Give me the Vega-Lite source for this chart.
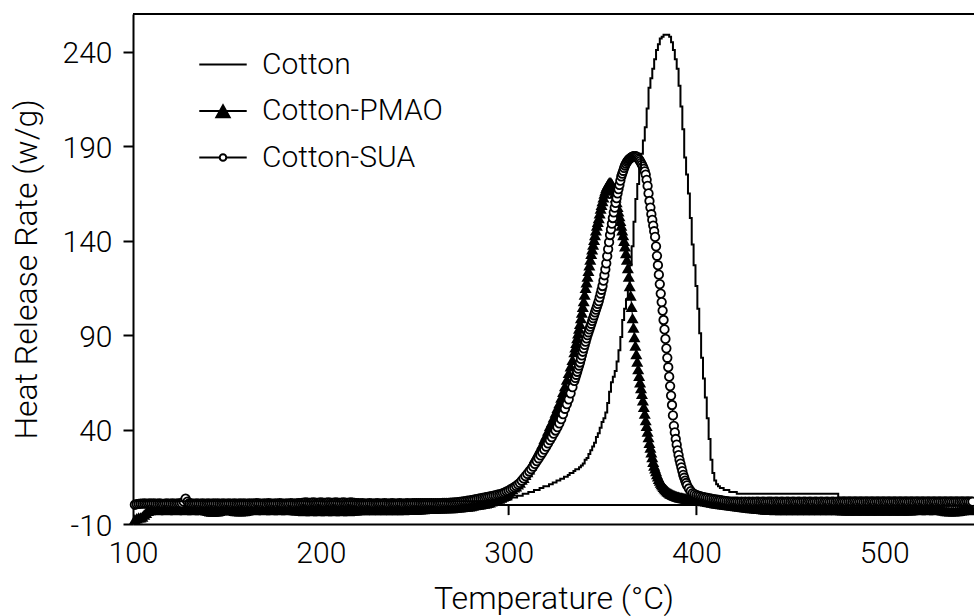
{
  "$schema": "https://vega.github.io/schema/vega-lite/v6.json",
  "width": 841,
  "height": 510,
  "autosize": {"type": "none"},
  "padding": {"left": 133, "top": 14, "right": 0, "bottom": 92},
  "background": "white",
  "config": {
    "view": {"stroke": null},
    "font": "Roboto",
    "axis": {
      "grid": false,
      "labelFont": "Roboto", "labelFontWeight": 300, "labelFontSize": 30, "labelColor": "black",
      "titleFont": "Roboto", "titleFontWeight": 300, "titleFontSize": 32, "titleColor": "black",
      "domainColor": "black", "domainWidth": 2, "tickColor": "black", "tickWidth": 2
    }
  },
  "datasets": {
    "hrr": [
      {"t":101,"c":2,"p":-7.5,"s":0.2},{"t":102,"c":2,"p":-7,"s":0.5},{"t":103,"c":2,"p":-6.5,"s":0.7},{"t":104,"c":2,"p":-6.5,"s":0.8},{"t":105,"c":2,"p":-6,"s":0.8},
      {"t":106,"c":2,"p":-5,"s":0.9},{"t":107,"c":2,"p":-4,"s":0.8},{"t":108,"c":2,"p":-3,"s":0.8},{"t":109,"c":2,"p":-2.6,"s":0.9},{"t":110,"c":2,"p":-2.5,"s":0.8},
      {"t":111,"c":2,"p":-2.4,"s":0.9},{"t":112,"c":2,"p":-2.5,"s":0.8},{"t":113,"c":2,"p":-2.6,"s":0.8},{"t":114,"c":2,"p":-2.5,"s":0.9},{"t":115,"c":2,"p":-2.4,"s":0.8},
      {"t":116,"c":2,"p":-2.5,"s":0.7},{"t":117,"c":2,"p":-2.5,"s":0.8},{"t":118,"c":2,"p":-2.6,"s":0.9},{"t":119,"c":2,"p":-2.5,"s":0.8},{"t":120,"c":2,"p":-2.4,"s":0.8},
      {"t":121,"c":2,"p":-2.5,"s":0.9},{"t":122,"c":2,"p":-2.5,"s":0.8},{"t":123,"c":2,"p":-2.6,"s":0.8},{"t":124,"c":2,"p":-2.5,"s":0.9},{"t":125,"c":2,"p":-2.4,"s":0.9},
      {"t":126,"c":2,"p":-2.5,"s":1.1},{"t":127,"c":2,"p":-2.5,"s":1.8},{"t":128,"c":2,"p":-2.6,"s":3.4},{"t":129,"c":2,"p":-2.5,"s":1.9},{"t":130,"c":2,"p":-2.4,"s":1.0},
      {"t":131,"c":2,"p":-2.5,"s":0.9},{"t":132,"c":2,"p":-2.6,"s":0.8},{"t":133,"c":2,"p":-2.5,"s":0.8},{"t":134,"c":2,"p":-2.4,"s":0.9},{"t":135,"c":2,"p":-2.5,"s":0.8},
      {"t":136,"c":2,"p":-2.6,"s":0.8},{"t":137,"c":2,"p":-2.5,"s":0.9},{"t":138,"c":2,"p":-2.5,"s":0.8},{"t":139,"c":2,"p":-2.7,"s":0.8},{"t":140,"c":2,"p":-3.0,"s":0.9},
      {"t":141,"c":2,"p":-3.3,"s":0.8},{"t":142,"c":2,"p":-3.4,"s":0.8},{"t":143,"c":2,"p":-3.4,"s":0.9},{"t":144,"c":2,"p":-3.3,"s":0.8},{"t":145,"c":2,"p":-3.3,"s":0.9},
      {"t":146,"c":2,"p":-3.0,"s":0.8},{"t":147,"c":2,"p":-2.7,"s":0.8},{"t":148,"c":2,"p":-2.5,"s":0.9},{"t":149,"c":2,"p":-2.5,"s":0.8},{"t":150,"c":2,"p":-2.4,"s":0.8},
      {"t":151,"c":2,"p":-2.5,"s":0.9},{"t":152,"c":2,"p":-2.6,"s":0.8},{"t":153,"c":2,"p":-2.7,"s":0.8},{"t":154,"c":2,"p":-3.0,"s":0.9},{"t":155,"c":2,"p":-3.2,"s":0.8},
      {"t":156,"c":2,"p":-3.2,"s":0.8},{"t":157,"c":2,"p":-3.3,"s":0.9},{"t":158,"c":2,"p":-3.2,"s":0.8},{"t":159,"c":2,"p":-3.2,"s":0.9},{"t":160,"c":2,"p":-3.0,"s":0.8},
      {"t":161,"c":2,"p":-2.7,"s":0.8},{"t":162,"c":2,"p":-2.5,"s":0.9},{"t":163,"c":2,"p":-2.5,"s":0.8},{"t":164,"c":2,"p":-2.4,"s":0.9},{"t":165,"c":2,"p":-2.6,"s":0.8},
      {"t":166,"c":2,"p":-2.5,"s":1.0},{"t":167,"c":2,"p":-2.5,"s":0.9},{"t":168,"c":2,"p":-2.4,"s":0.8},{"t":169,"c":2,"p":-2.5,"s":0.8},{"t":170,"c":2,"p":-2.6,"s":0.9},
      {"t":171,"c":2,"p":-2.5,"s":0.8},{"t":172,"c":2,"p":-2.4,"s":1.0},{"t":173,"c":2,"p":-2.5,"s":0.9},{"t":174,"c":2,"p":-2.6,"s":0.8},{"t":175,"c":2,"p":-2.5,"s":0.8},
      {"t":176,"c":2,"p":-2.4,"s":0.9},{"t":177,"c":2,"p":-2.5,"s":0.8},{"t":178,"c":2,"p":-2.6,"s":1.0},{"t":179,"c":2,"p":-2.5,"s":0.9},{"t":180,"c":2,"p":-2.4,"s":0.8},
      {"t":181,"c":2,"p":-2.5,"s":0.8},{"t":182,"c":2,"p":-2.6,"s":0.9},{"t":183,"c":2,"p":-2.5,"s":0.8},{"t":184,"c":2,"p":-2.4,"s":1.0},{"t":185,"c":2,"p":-2.5,"s":0.9},
      {"t":186,"c":2,"p":-2.6,"s":0.8},{"t":187,"c":2,"p":-2.7,"s":0.9},{"t":188,"c":2,"p":-2.8,"s":1.0},{"t":189,"c":2,"p":-2.9,"s":1.1},{"t":190,"c":2,"p":-3.0,"s":1.2},
      {"t":191,"c":2,"p":-3.1,"s":1.3},{"t":192,"c":2,"p":-3.0,"s":1.4},{"t":193,"c":2,"p":-2.9,"s":1.3},{"t":194,"c":2,"p":-3.0,"s":1.2},{"t":195,"c":2,"p":-3.1,"s":1.3},
      {"t":196,"c":2,"p":-3.0,"s":1.4},{"t":197,"c":2,"p":-2.9,"s":1.3},{"t":198,"c":2,"p":-3.0,"s":1.2},{"t":199,"c":2,"p":-3.1,"s":1.3},{"t":200,"c":2,"p":-3.0,"s":1.4},
      {"t":201,"c":2,"p":-2.9,"s":1.3},{"t":202,"c":2,"p":-3.0,"s":1.2},{"t":203,"c":2,"p":-3.1,"s":1.3},{"t":204,"c":2,"p":-3.0,"s":1.4},{"t":205,"c":2,"p":-2.9,"s":1.3},
      {"t":206,"c":2,"p":-3.0,"s":1.2},{"t":207,"c":2,"p":-3.1,"s":1.3},{"t":208,"c":2,"p":-3.0,"s":1.4},{"t":209,"c":2,"p":-2.9,"s":1.3},{"t":210,"c":2,"p":-3.0,"s":1.2},
      {"t":211,"c":2,"p":-3.1,"s":1.3},{"t":212,"c":2,"p":-3.0,"s":1.4},{"t":213,"c":2,"p":-2.9,"s":1.3},{"t":214,"c":2,"p":-3.0,"s":1.2},{"t":215,"c":2,"p":-3.1,"s":1.3},
      {"t":216,"c":2,"p":-3.0,"s":1.4},{"t":217,"c":2,"p":-2.9,"s":1.3},{"t":218,"c":2,"p":-2.8,"s":1.2},{"t":219,"c":2,"p":-2.7,"s":1.1},{"t":220,"c":2,"p":-2.6,"s":1.0},
      {"t":221,"c":2,"p":-2.5,"s":0.9},{"t":222,"c":2,"p":-2.4,"s":1.0},{"t":223,"c":2,"p":-2.6,"s":0.9},{"t":224,"c":2,"p":-2.5,"s":0.8},{"t":225,"c":2,"p":-2.4,"s":0.9},
      {"t":226,"c":2,"p":-2.6,"s":1.0},{"t":227,"c":2,"p":-2.5,"s":0.9},{"t":228,"c":2,"p":-2.4,"s":0.8},{"t":229,"c":2,"p":-2.6,"s":0.9},{"t":230,"c":2,"p":-2.5,"s":1.0},
      {"t":231,"c":2,"p":-2.4,"s":0.9},{"t":232,"c":2,"p":-2.6,"s":0.8},{"t":233,"c":2,"p":-2.5,"s":0.9},{"t":234,"c":2,"p":-2.4,"s":1.0},{"t":235,"c":2,"p":-2.6,"s":0.9},
      {"t":236,"c":2,"p":-2.5,"s":0.8},{"t":237,"c":2,"p":-2.4,"s":0.9},{"t":238,"c":2,"p":-2.6,"s":1.0},{"t":239,"c":2,"p":-2.5,"s":0.9},{"t":240,"c":2,"p":-2.4,"s":0.8},
      {"t":241,"c":2,"p":-2.6,"s":0.9},{"t":242,"c":2,"p":-2.5,"s":1.0},{"t":243,"c":2,"p":-2.4,"s":0.9},{"t":244,"c":2,"p":-2.6,"s":0.8},{"t":245,"c":2,"p":-2.5,"s":0.9},
      {"t":246,"c":2,"p":-2.4,"s":1.0},{"t":247,"c":2,"p":-2.5,"s":0.9},{"t":248,"c":2,"p":-2.4,"s":0.9},{"t":249,"c":2,"p":-2.4,"s":1.0},{"t":250,"c":2,"p":-2.3,"s":1.0},
      {"t":251,"c":2,"p":-2.3,"s":1.0},{"t":252,"c":2,"p":-2.2,"s":1.0},{"t":253,"c":2,"p":-2.2,"s":1.0},{"t":254,"c":2,"p":-2.1,"s":1.0},{"t":255,"c":2,"p":-2.1,"s":1.05},
      {"t":256,"c":2,"p":-2.0,"s":1.05},{"t":257,"c":2,"p":-2.0,"s":1.05},{"t":258,"c":2,"p":-1.9,"s":1.05},{"t":259,"c":2,"p":-1.9,"s":1.05},{"t":260,"c":2,"p":-1.8,"s":1.1},
      {"t":261,"c":2,"p":-1.8,"s":1.1},{"t":262,"c":2,"p":-1.7,"s":1.1},{"t":263,"c":2,"p":-1.7,"s":1.1},{"t":264,"c":2,"p":-1.7,"s":1.1},{"t":265,"c":2,"p":-1.6,"s":1.15},
      {"t":266,"c":2,"p":-1.6,"s":1.15},{"t":267,"c":2,"p":-1.6,"s":1.2},{"t":268,"c":2,"p":-1.55,"s":1.2},{"t":269,"c":2,"p":-1.5,"s":1.25},{"t":270,"c":2,"p":-1.5,"s":1.3},
      {"t":271,"c":2,"p":-1.4,"s":1.4},{"t":272,"c":2,"p":-1.3,"s":1.5},{"t":273,"c":2,"p":-1.2,"s":1.6},{"t":274,"c":2,"p":-1.1,"s":1.7},{"t":275,"c":2,"p":-1.0,"s":1.8},
      {"t":276,"c":2,"p":-0.9,"s":2.0},{"t":277,"c":2,"p":-0.8,"s":2.1},{"t":278,"c":2,"p":-0.7,"s":2.3},{"t":279,"c":2,"p":-0.6,"s":2.4},{"t":280,"c":2,"p":-0.5,"s":2.6},
      {"t":281,"c":2,"p":-0.2,"s":2.8},{"t":282,"c":2,"p":0,"s":3.0},{"t":283,"c":2,"p":0.2,"s":3.2},{"t":284,"c":2,"p":0.3,"s":3.4},{"t":285,"c":2,"p":0.5,"s":3.6},
      {"t":286,"c":2,"p":0.7,"s":3.8},{"t":287,"c":2,"p":0.9,"s":4.0},{"t":288,"c":2,"p":1.0,"s":4.2},{"t":289,"c":2,"p":1.2,"s":4.4},{"t":290,"c":2,"p":1.5,"s":4.6},
      {"t":291,"c":2,"p":2.0,"s":4.8},{"t":292,"c":2,"p":2.3,"s":5.0},{"t":293,"c":2,"p":2.7,"s":5.2},{"t":294,"c":2,"p":3.0,"s":5.5},{"t":295,"c":2,"p":3.5,"s":5.7},
      {"t":296,"c":2,"p":4.0,"s":6.0},{"t":297,"c":2,"p":4.5,"s":6.3},{"t":298,"c":2,"p":5.0,"s":6.7},{"t":299,"c":3,"p":6.0,"s":7.2},{"t":300,"c":3,"p":6.5,"s":7.7},
      {"t":301,"c":3,"p":7.5,"s":8.3},{"t":302,"c":4,"p":8.5,"s":8.9},{"t":303,"c":4,"p":9.5,"s":9.5},{"t":304,"c":4,"p":10.0,"s":10.2},{"t":305,"c":5,"p":11.0,"s":11.0},
      {"t":306,"c":5,"p":12.0,"s":11.8},{"t":307,"c":5,"p":13.5,"s":12.9},{"t":308,"c":6,"p":14.5,"s":14.1},{"t":309,"c":6,"p":16.0,"s":15.3},{"t":310,"c":6,"p":17.5,"s":16.5},
      {"t":311,"c":7,"p":19.0,"s":17.8},{"t":312,"c":7,"p":21.0,"s":19.0},{"t":313,"c":7,"p":23.0,"s":20.4},{"t":314,"c":8,"p":25.0,"s":21.8},{"t":315,"c":8,"p":26.5,"s":23.3},
      {"t":316,"c":8,"p":28.5,"s":24.8},{"t":317,"c":9,"p":30.5,"s":26.3},{"t":318,"c":9,"p":32.5,"s":27.8},{"t":319,"c":10,"p":35.0,"s":29.4},{"t":320,"c":10,"p":37.0,"s":31.0},
      {"t":321,"c":10,"p":39.5,"s":32.7},{"t":322,"c":11,"p":42.0,"s":34.4},{"t":323,"c":11,"p":44.0,"s":36.0},{"t":324,"c":12,"p":46.5,"s":37.8},{"t":325,"c":12,"p":49.0,"s":39.5},
      {"t":326,"c":13,"p":51.5,"s":41.3},{"t":327,"c":13,"p":54.0,"s":43.3},{"t":328,"c":14,"p":57.0,"s":45.5},{"t":329,"c":14,"p":60.0,"s":48.2},{"t":330,"c":15,"p":63.0,"s":51.0},
      {"t":331,"c":15,"p":66.5,"s":53.5},{"t":332,"c":16,"p":70.0,"s":56.0},{"t":333,"c":17,"p":73.5,"s":59.2},{"t":334,"c":17,"p":77.0,"s":62.5},
      {"t":335,"c":18,"p":81,"s":65.8},{"t":335.5,"p":83.5,"s":67.4},{"t":336,"c":19,"p":86,"s":69},{"t":336.5,"p":88.5,"s":70.6},
      {"t":337,"c":19,"p":91,"s":72.3},{"t":337.5,"p":93.5,"s":73.9},{"t":338,"c":20,"p":96,"s":75.5},{"t":338.5,"p":99,"s":77.4},
      {"t":339,"c":21,"p":102,"s":79.3},{"t":339.5,"p":105,"s":81.2},{"t":340,"c":22,"p":108,"s":83},{"t":340.5,"p":111.5,"s":84.8},
      {"t":341,"c":24,"p":115,"s":86.5},{"t":341.5,"p":118,"s":88.3},{"t":342,"c":25,"p":121,"s":90},{"t":342.5,"p":124,"s":91.5},
      {"t":343,"c":27,"p":127,"s":93},{"t":343.5,"p":130,"s":94.5},{"t":344,"c":29,"p":133,"s":96},{"t":344.5,"p":135.5,"s":97.5},
      {"t":345,"c":31,"p":138,"s":99},{"t":345.5,"p":140.5,"s":100.5},{"t":346,"c":33,"p":143,"s":102},{"t":346.5,"p":145.5,"s":103.5},
      {"t":347,"c":36,"p":148,"s":105},{"t":347.5,"p":150,"s":106.5},{"t":348,"c":38,"p":152,"s":108},{"t":348.5,"p":154.5,"s":110},
      {"t":349,"c":41,"p":157,"s":112},{"t":349.5,"p":159,"s":114},{"t":350,"c":44,"p":161,"s":116},{"t":350.5,"p":163,"s":118.8},
      {"t":351,"c":46,"p":165,"s":121.7},{"t":351.5,"p":166.5,"s":124.8},{"t":352,"c":49,"p":168,"s":128},{"t":352.5,"p":169,"s":131.8},
      {"t":353,"c":54,"p":170,"s":135.5},{"t":353.5,"p":170.8,"s":139.2},{"t":354,"c":60,"p":171,"s":143},{"t":354.5,"p":170.8,"s":146},
      {"t":355,"c":65,"p":170,"s":149},{"t":355.5,"p":168.5,"s":152},{"t":356,"c":68,"p":167,"s":155},{"t":356.5,"p":165,"s":157.5},
      {"t":357,"c":71,"p":163,"s":160},{"t":357.5,"p":160.5,"s":162.5},{"t":358,"c":76,"p":158,"s":165},{"t":358.5,"p":155.5,"s":167.3},
      {"t":359,"c":82,"p":153,"s":169.5},{"t":359.5,"p":150.5,"s":171.8},{"t":360,"c":89,"p":148,"s":174},{"t":360.5,"p":145.5,"s":175.5},
      {"t":361,"c":98,"p":143,"s":177},{"t":361.5,"p":140,"s":178.5},{"t":362,"c":104,"p":137,"s":179.8},{"t":362.5,"p":133.5,"s":180.8},
      {"t":363,"c":109,"p":130,"s":181.7},{"t":363.5,"p":125.5,"s":182.4},{"t":364,"c":116,"p":121,"s":183},{"t":364.5,"p":116,"s":183.4},
      {"t":365,"c":127,"p":111,"s":183.8},{"t":365.5,"p":105,"s":184.2},{"t":366,"c":137,"p":99,"s":184.5},{"t":366.5,"p":94,"s":184.7},
      {"t":367,"c":150,"p":89,"s":184.8},{"t":367.5,"p":84.5,"s":184.8},{"t":368,"c":162,"p":80,"s":184.6},{"t":368.5,"p":76,"s":184.2},
      {"t":369,"c":170,"p":72,"s":183.6},{"t":369.5,"p":68.5,"s":182.9},{"t":370,"c":178,"p":65,"s":182.1},{"t":370.5,"p":62,"s":181.2},
      {"t":371,"c":186,"p":59,"s":180.2},{"t":371.5,"p":55.5,"s":179.2},{"t":372,"c":193,"p":52,"s":178},{"t":372.5,"p":48.5,"s":176.7},
      {"t":373,"c":200,"p":45,"s":175},{"t":373.5,"p":42,"s":172.2},{"t":374,"c":210,"p":39,"s":169},{"t":374.5,"p":36,"s":165},
      {"t":375,"c":221,"p":33,"s":161},{"t":375.5,"p":30.5,"s":157.5},{"t":376,"c":226,"p":28,"s":154},{"t":376.5,"p":25.5,"s":151},
      {"t":377,"c":231,"p":23,"s":148},{"t":377.5,"p":21,"s":145},{"t":378,"c":236,"p":19.5,"s":142},{"t":378.5,"p":18,"s":137},
      {"t":379,"c":241,"p":16.5,"s":132},{"t":379.5,"p":15.2,"s":127},{"t":380,"c":244,"p":14,"s":122},{"t":380.5,"p":13,"s":117},
      {"t":381,"c":247,"p":12,"s":112},{"t":381.5,"p":11.2,"s":107.5},{"t":382,"c":248,"p":10.5,"s":103},{"t":382.5,"p":9.7,"s":98},
      {"t":383,"c":249,"p":9,"s":93},{"t":383.5,"p":8.5,"s":88},{"t":384,"c":249,"p":8,"s":83},{"t":384.5,"p":7.5,"s":78},
      {"t":385,"c":249,"p":7,"s":73},{"t":385.5,"p":6.6,"s":68},{"t":386,"c":248,"p":6.3,"s":63},{"t":386.5,"p":6,"s":58},
      {"t":387,"c":245,"p":5.8,"s":53},{"t":387.5,"p":5.5,"s":47.5},{"t":388,"c":241,"p":5.3,"s":42},{"t":388.5,"p":5.1,"s":38.5},
      {"t":389,"c":236,"p":4.9,"s":35},{"t":389.5,"p":4.7,"s":32},{"t":390,"c":231,"p":4.5,"s":29},{"t":390.5,"p":4.4,"s":26.5},
      {"t":391,"c":222,"p":4.2,"s":24},{"t":391.5,"p":4.1,"s":22},{"t":392,"c":211,"p":4.0,"s":20},{"t":392.5,"p":3.9,"s":18},
      {"t":393,"c":199,"p":3.8,"s":16},{"t":393.5,"p":3.7,"s":14.5},{"t":394,"c":184,"p":3.6,"s":13},{"t":394.5,"p":3.5,"s":11.7},
      {"t":395,"c":175,"p":3.4,"s":10.5},{"t":396,"c":165,"p":3.2,"s":8.8},{"t":397,"c":152,"p":3.1,"s":7.4},{"t":398,"c":138,"p":3.0,"s":6.4},
      {"t":399,"c":127,"p":2.8,"s":5.8},{"t":400,"c":116,"p":2.7,"s":5.3},{"t":401,"c":104,"p":2.6,"s":5.0},{"t":402,"c":91,"p":2.4,"s":4.7},
      {"t":403,"c":78,"p":2.3,"s":4.4},{"t":404,"c":67,"p":2.1,"s":4.2},{"t":405,"c":57,"p":2.0,"s":4.0},{"t":406,"c":46,"p":1.8,"s":3.8},
      {"t":407,"c":35,"p":1.6,"s":3.6},{"t":408,"c":24,"p":1.4,"s":3.4},{"t":409,"c":17,"p":1.2,"s":3.2},{"t":410,"c":13,"p":1.0,"s":3.0},
      {"t":411,"c":11,"p":0.9,"s":2.9},{"t":412,"c":10,"p":0.7,"s":2.7},{"t":413,"c":9,"p":0.6,"s":2.6},{"t":414,"c":9,"p":0.4,"s":2.4},
      {"t":415,"c":8,"p":0.3,"s":2.2},{"t":416,"c":8,"p":0.2,"s":2.1},{"t":417,"c":8,"p":0,"s":2.0},{"t":418,"c":7,"p":-0.1,"s":1.9},
      {"t":419,"c":7,"p":-0.2,"s":1.9},{"t":420,"c":7,"p":-0.3,"s":1.8},{"t":421,"c":7,"p":-0.5,"s":1.8},{"t":422,"c":6,"p":-0.6,"s":1.8},
      {"t":423,"c":6,"p":-0.8,"s":1.7},{"t":424,"c":6,"p":-0.9,"s":1.8},{"t":425,"c":6,"p":-1.0,"s":1.7},{"t":426,"c":6,"p":-1.1,"s":1.8},
      {"t":427,"c":6,"p":-1.3,"s":1.7},{"t":428,"c":6,"p":-1.4,"s":1.8},{"t":429,"c":6,"p":-1.5,"s":1.7},{"t":430,"c":6,"p":-1.6,"s":1.8},
      {"t":431,"c":6,"p":-1.7,"s":1.7},{"t":432,"c":6,"p":-1.8,"s":1.8},{"t":433,"c":6,"p":-1.9,"s":1.8},{"t":434,"c":6,"p":-2.0,"s":1.7},
      {"t":435,"c":6,"p":-2.1,"s":1.8},{"t":436,"c":6,"p":-2.2,"s":1.8},{"t":437,"c":6,"p":-2.3,"s":1.7},{"t":438,"c":6,"p":-2.4,"s":1.8},
      {"t":439,"c":6,"p":-2.4,"s":1.8},{"t":440,"c":6,"p":-2.5,"s":1.8},{"t":441,"c":6,"p":-2.4,"s":1.7},{"t":442,"c":6,"p":-2.6,"s":1.9},
      {"t":443,"c":6,"p":-2.5,"s":1.8},{"t":444,"c":6,"p":-2.4,"s":1.7},{"t":445,"c":6,"p":-2.6,"s":1.9},{"t":446,"c":6,"p":-2.5,"s":1.8},
      {"t":447,"c":6,"p":-2.4,"s":1.7},{"t":448,"c":6,"p":-2.6,"s":1.9},{"t":449,"c":6,"p":-2.5,"s":1.8},{"t":450,"c":6,"p":-2.4,"s":1.7},
      {"t":451,"c":6,"p":-2.6,"s":1.9},{"t":452,"c":6,"p":-2.5,"s":1.8},{"t":453,"c":6,"p":-2.4,"s":1.7},{"t":454,"c":6,"p":-2.6,"s":1.9},
      {"t":455,"c":6,"p":-2.5,"s":1.8},{"t":456,"c":6,"p":-2.4,"s":1.7},{"t":457,"c":6,"p":-2.6,"s":1.9},{"t":458,"c":6,"p":-2.5,"s":1.8},
      {"t":459,"c":6,"p":-2.4,"s":1.7},{"t":460,"c":6,"p":-2.6,"s":1.9},{"t":461,"c":6,"p":-2.5,"s":1.8},{"t":462,"c":6,"p":-2.4,"s":1.7},
      {"t":463,"c":6,"p":-2.6,"s":1.9},{"t":464,"c":6,"p":-2.5,"s":1.8},{"t":465,"c":6,"p":-2.4,"s":1.7},{"t":466,"c":6,"p":-2.6,"s":1.9},
      {"t":467,"c":6,"p":-2.5,"s":1.8},{"t":468,"c":6,"p":-2.4,"s":1.7},{"t":469,"c":6,"p":-2.6,"s":1.9},{"t":470,"c":6,"p":-2.5,"s":1.8},
      {"t":471,"c":6,"p":-2.4,"s":1.7},{"t":472,"c":6,"p":-2.6,"s":1.9},{"t":473,"c":6,"p":-2.5,"s":1.8},{"t":474,"c":6,"p":-2.4,"s":1.7},
      {"t":475,"c":6,"p":-2.6,"s":1.9},{"t":476,"c":4,"p":-2.5,"s":1.8},{"t":477,"c":4,"p":-2.6,"s":1.7},{"t":478,"c":4,"p":-2.7,"s":1.9},
      {"t":479,"c":4,"p":-2.6,"s":1.8},{"t":480,"c":4,"p":-2.7,"s":1.7},{"t":481,"c":4,"p":-2.8,"s":1.9},{"t":482,"c":4,"p":-2.7,"s":1.8},
      {"t":483,"c":4,"p":-2.6,"s":1.7},{"t":484,"c":4,"p":-2.7,"s":1.9},{"t":485,"c":4,"p":-2.8,"s":1.8},{"t":486,"c":4,"p":-2.7,"s":1.7},
      {"t":487,"c":4,"p":-2.6,"s":1.9},{"t":488,"c":4,"p":-2.7,"s":1.8},{"t":489,"c":4,"p":-2.8,"s":1.7},{"t":490,"c":4,"p":-2.7,"s":1.9},
      {"t":491,"c":4,"p":-2.6,"s":1.8},{"t":492,"c":4,"p":-2.7,"s":1.7},{"t":493,"c":4,"p":-2.8,"s":1.9},{"t":494,"c":4,"p":-2.7,"s":1.8},
      {"t":495,"c":4,"p":-2.6,"s":1.7},{"t":496,"c":4,"p":-2.7,"s":1.9},{"t":497,"c":4,"p":-2.8,"s":1.8},{"t":498,"c":4,"p":-2.7,"s":1.7},
      {"t":499,"c":4,"p":-2.6,"s":1.9},{"t":500,"c":4,"p":-2.7,"s":1.8},{"t":501,"c":4,"p":-2.8,"s":1.7},{"t":502,"c":4,"p":-2.7,"s":1.9},
      {"t":503,"c":4,"p":-2.6,"s":1.8},{"t":504,"c":4,"p":-2.7,"s":1.7},{"t":505,"c":4,"p":-2.8,"s":1.9},{"t":506,"c":4,"p":-2.7,"s":1.8},
      {"t":507,"c":4,"p":-2.6,"s":1.7},{"t":508,"c":4,"p":-2.7,"s":1.9},{"t":509,"c":4,"p":-2.8,"s":1.8},{"t":510,"c":4,"p":-2.7,"s":1.7},
      {"t":511,"c":4,"p":-2.6,"s":1.9},{"t":512,"c":4,"p":-2.7,"s":1.8},{"t":513,"c":4,"p":-2.8,"s":1.7},{"t":514,"c":4,"p":-2.7,"s":1.9},
      {"t":515,"c":4,"p":-2.6,"s":1.8},{"t":516,"c":4,"p":-2.5,"s":1.7},{"t":517,"c":4,"p":-2.4,"s":1.9},{"t":518,"c":4,"p":-2.5,"s":1.8},
      {"t":519,"c":4,"p":-2.6,"s":1.7},{"t":520,"c":4,"p":-2.5,"s":1.9},{"t":521,"c":4,"p":-2.4,"s":1.8},{"t":522,"c":4,"p":-2.5,"s":1.7},
      {"t":523,"c":4,"p":-2.6,"s":1.9},{"t":524,"c":4,"p":-2.5,"s":1.8},{"t":525,"c":4,"p":-2.4,"s":1.7},{"t":526,"c":4,"p":-2.5,"s":1.9},
      {"t":527,"c":4,"p":-2.6,"s":1.8},{"t":528,"c":4,"p":-2.5,"s":1.7},{"t":529,"c":4,"p":-2.4,"s":1.9},{"t":530,"c":4,"p":-2.5,"s":1.8},
      {"t":531,"c":4,"p":-2.7,"s":1.7},{"t":532,"c":4,"p":-2.9,"s":1.9},{"t":533,"c":4,"p":-3.1,"s":1.8},{"t":534,"c":4,"p":-3.2,"s":1.7},
      {"t":535,"c":4,"p":-3.3,"s":1.9},{"t":536,"c":4,"p":-3.2,"s":1.8},{"t":537,"c":4,"p":-3.3,"s":1.7},{"t":538,"c":4,"p":-3.2,"s":1.9},
      {"t":539,"c":4,"p":-3.1,"s":1.8},{"t":540,"c":4,"p":-3.0,"s":1.7},{"t":541,"c":4,"p":-2.8,"s":1.9},{"t":542,"c":4,"p":-2.6,"s":1.8},
      {"t":543,"c":4,"p":-2.5,"s":1.7},{"t":544,"c":4,"p":-2.4,"s":1.9},{"t":545,"c":4,"p":-2.5,"s":1.8},{"t":546,"c":4,"p":-2.6,"s":1.7},
      {"t":547,"c":4,"p":-2.5,"s":1.8}
    ]
  },
  "data": {"name": "hrr"},
  "transform": [{"fold": ["c", "p", "s"], "as": ["series", "v"]}],
  "layer": [
    {
      "data": {"values": [{}]},
      "mark": {"type": "rule", "color": "black", "strokeWidth": 2},
      "encoding": {
        "y": {"datum": 0, "type": "quantitative", "scale": {"domain": [-10, 260], "nice": false, "zero": false}}
      }
    },
    {
      "data": {"values": [{"t": 300}, {"t": 400}]},
      "mark": {"type": "rule", "color": "black", "strokeWidth": 2},
      "encoding": {
        "x": {"field": "t", "type": "quantitative", "scale": {"domain": [100, 547.8], "nice": false, "zero": false}},
        "y": {"datum": 0, "type": "quantitative", "scale": {"domain": [-10, 260], "nice": false, "zero": false}},
        "y2": {"datum": -5.3}
      }
    },
    {
      "data": {"values": [{}]},
      "mark": {"type": "rule", "color": "black", "strokeWidth": 2},
      "encoding": {
        "y": {"datum": 260, "type": "quantitative", "scale": {"domain": [-10, 260], "nice": false, "zero": false}}
      }
    },
    {
      "transform": [{"filter": "datum.series == 'p'"}],
      "mark": {"type": "line", "color": "black", "strokeWidth": 1},
      "encoding": {
        "x": {"field": "t", "type": "quantitative", "scale": {"domain": [100, 547.8], "nice": false, "zero": false}},
        "y": {"field": "v", "type": "quantitative", "scale": {"domain": [-10, 260], "nice": false, "zero": false}}
      }
    },
    {
      "transform": [{"filter": "datum.series == 'p'"}],
      "mark": {"type": "point", "shape": "triangle-up", "filled": true, "color": "black", "size": 145, "opacity": 1},
      "encoding": {
        "x": {"field": "t", "type": "quantitative", "scale": {"domain": [100, 547.8], "nice": false, "zero": false}},
        "y": {"field": "v", "type": "quantitative", "scale": {"domain": [-10, 260], "nice": false, "zero": false}}
      }
    },
    {
      "transform": [{"filter": "datum.series == 's'"}],
      "mark": {"type": "line", "color": "black", "strokeWidth": 1},
      "encoding": {
        "x": {"field": "t", "type": "quantitative", "scale": {"domain": [100, 547.8], "nice": false, "zero": false}},
        "y": {"field": "v", "type": "quantitative", "scale": {"domain": [-10, 260], "nice": false, "zero": false}}
      }
    },
    {
      "transform": [{"filter": "datum.series == 's'"}],
      "mark": {"type": "point", "shape": "circle", "filled": true, "fill": "white", "stroke": "black", "strokeWidth": 1.8, "size": 72, "opacity": 1},
      "encoding": {
        "x": {"field": "t", "type": "quantitative", "scale": {"domain": [100, 547.8], "nice": false, "zero": false}},
        "y": {"field": "v", "type": "quantitative", "scale": {"domain": [-10, 260], "nice": false, "zero": false}}
      }
    },
    {
      "transform": [{"filter": "datum.series == 'c' && isValid(datum.v)"}],
      "mark": {"type": "line", "color": "black", "strokeWidth": 2, "interpolate": "step"},
      "encoding": {
        "x": {
          "field": "t", "type": "quantitative",
          "scale": {"domain": [100, 547.8], "nice": false, "zero": false},
          "axis": {"values": [100, 200, 300, 400, 500], "format": "d", "tickSize": 0, "labelPadding": 14, "labelFlush": false, "title": "Temperature (°C)", "titlePadding": 15}
        },
        "y": {
          "field": "v", "type": "quantitative",
          "scale": {"domain": [-10, 260], "nice": false, "zero": false},
          "axis": {"values": [-10, 40, 90, 140, 190, 240], "format": "d", "labelExpr": "datum.value < 0 ? '-' + abs(datum.value) : datum.label", "tickSize": 10, "labelPadding": 11, "labelOffset": 2, "title": "Heat Release Rate (w/g)", "titlePadding": 19}
        }
      }
    },
    {
      "transform": [{"filter": "datum.t == 300"}],
      "mark": {"type": "point", "opacity": 0, "stroke": "black", "strokeWidth": 2, "size": 90},
      "encoding": {
        "x": {"field": "t", "type": "quantitative", "scale": {"domain": [100, 547.8], "nice": false, "zero": false}},
        "y": {"field": "v", "type": "quantitative", "scale": {"domain": [-10, 260], "nice": false, "zero": false}},
        "shape": {
          "field": "series", "type": "nominal",
          "scale": {"domain": ["c", "p", "s"], "range": ["M-5,0L5,0", "M-5,0L5,0M-1.4,1.3L1.4,1.3L0,-1.2Z", "M-5,0L-0.7,0M0.7,0L5,0M-0.7,0A0.7,0.7,0,1,0,0.7,0A0.7,0.7,0,1,0,-0.7,0Z"]},
          "legend": {"orient": "none", "legendX": 67, "legendY": 35.5, "title": null, "labelExpr": "datum.label == 'c' ? 'Cotton' : datum.label == 'p' ? 'Cotton-PMAO' : 'Cotton-SUA'", "labelFont": "Roboto", "labelFontWeight": 300, "labelFontSize": 30, "labelColor": "black", "labelLimit": 500, "symbolSize": 90, "symbolStrokeWidth": 2, "symbolStrokeColor": "black", "symbolOpacity": 1, "symbolOffset": 8, "labelOffset": 24, "rowPadding": 16.5, "padding": 0,
            "encode": {"symbols": {"update": {"stroke": {"value": "black"}, "strokeWidth": {"value": 2}, "opacity": {"value": 1}, "strokeOpacity": {"value": 1}}}}}
        },
        "fill": {
          "field": "series", "type": "nominal",
          "scale": {"domain": ["c", "p", "s"], "range": ["white", "black", "white"]},
          "legend": {"orient": "none", "legendX": 67, "legendY": 35.5, "title": null, "labelExpr": "datum.label == 'c' ? 'Cotton' : datum.label == 'p' ? 'Cotton-PMAO' : 'Cotton-SUA'", "labelFont": "Roboto", "labelFontWeight": 300, "labelFontSize": 30, "labelColor": "black", "labelLimit": 500, "symbolSize": 90, "symbolStrokeWidth": 2, "symbolStrokeColor": "black", "symbolOpacity": 1, "symbolOffset": 8, "labelOffset": 24, "rowPadding": 16.5, "padding": 0,
            "encode": {"symbols": {"update": {"stroke": {"value": "black"}, "strokeWidth": {"value": 2}, "opacity": {"value": 1}, "strokeOpacity": {"value": 1}}}}}
        }
      }
    }
  ]
}
